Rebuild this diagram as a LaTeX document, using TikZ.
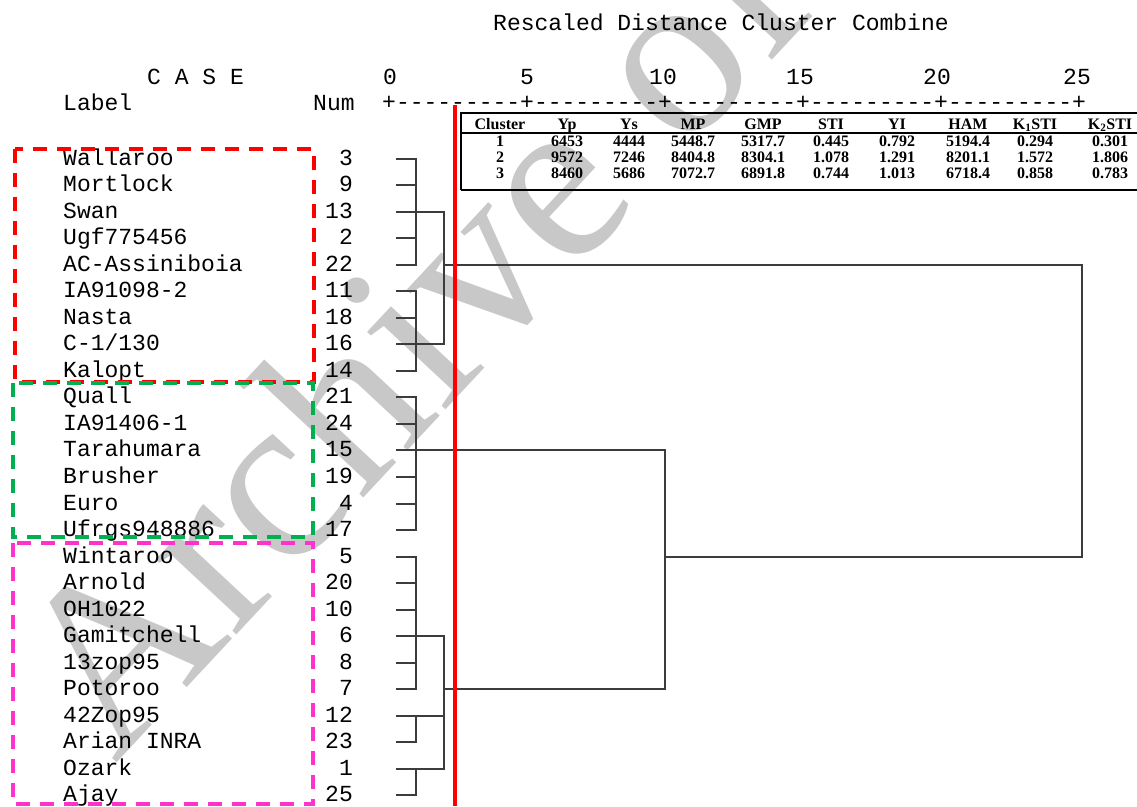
\documentclass[tikz,border=0pt]{standalone}
\usepackage{fontspec}
\setmainfont{Liberation Serif}
\setmonofont{Liberation Mono}
\usetikzlibrary{positioning,calc}
\definecolor{cRed}{RGB}{255,0,0}
\definecolor{cGreen}{RGB}{0,176,80}
\definecolor{cMagenta}{RGB}{255,51,204}
\definecolor{dLine}{RGB}{60,60,60}
\definecolor{wGray}{RGB}{200,200,200}

\begin{document}
\begin{tikzpicture}[x=1pt,y=-1pt,
  lbl/.style={font=\fontsize{23}{26}\selectfont\ttfamily,inner sep=0pt,text height=13pt,text depth=0pt},
  th/.style={font=\fontsize{16}{18}\selectfont\bfseries,inner sep=0pt,text height=10.8pt,text depth=0pt},
  tabrule/.style={line width=2.5pt,black},
  dend/.style={line width=2pt,dLine,line cap=rect},
  grp/.style={line width=3.5pt,dash pattern=on 14pt off 10pt},
  cutline/.style={line width=3.5pt,cRed},
  wmark/.style={font=\fontsize{240}{240}\selectfont,text=wGray,inner sep=0pt}]
\useasboundingbox (0,0) rectangle (1137,806);
\clip (0,0) rectangle (1137,806);
% ---- watermark
\node[wmark,rotate=47,anchor=base west] (wm) at (115,765) {Archive of SID};
% ---- titles
\node[lbl,anchor=west] (title) at (493,24) {Rescaled Distance Cluster Combine};
\node[lbl,anchor=west] (caseH) at (147,78) {C A S E};
\node[lbl,anchor=west] (labelH) at (63,104) {Label};
\node[lbl,anchor=west] (numH) at (313,104) {Num};
\foreach \v/\px in {0/390,5/527,10/663,15/800,20/937,25/1077}
  \node[lbl] (ax\v) at (\px,78) {\v};
\node[lbl,anchor=west] (axis) at (382,103) {+---------+---------+---------+---------+---------+};
% ---- cases
\foreach \nm/\nb [count=\i] in {Wallaroo/3,Mortlock/9,Swan/13,Ugf775456/2,AC-Assiniboia/22,
    IA91098-2/11,Nasta/18,{C-1/130}/16,Kalopt/14,Quall/21,IA91406-1/24,Tarahumara/15,
    Brusher/19,Euro/4,Ufrgs948886/17,Wintaroo/5,Arnold/20,OH1022/10,Gamitchell/6,
    13zop95/8,Potoroo/7,42Zop95/12,Arian INRA/23,Ozark/1,Ajay/25}{
  \pgfmathsetmacro\ry{158.5+(\i-1)*26.54}
  \node[lbl,anchor=west] (lab\i) at (63,\ry) {\nm};
  \node[lbl,anchor=east] (num\i) at (353,\ry) {\nb};
  \coordinate (r\i) at (397,\ry);
}
% ---- dendrogram
\coordinate (lv1) at (416,0);
\coordinate (lv2) at (444,0);
\coordinate (lv3) at (665,0);
\coordinate (lv4) at (1082,0);
\foreach \i in {1,...,25}
  \draw[dend] (r\i) -- (r\i -| lv1);
\foreach \a/\b in {1/5,6/9,10/15,16/21,22/23,24/25}
  \draw[dend] (r\a -| lv1) -- (r\b -| lv1);
\draw[dend] (r3 -| lv1) -- (r3 -| lv2) -- (r8 -| lv2) -- (r8 -| lv1);
\draw[dend] (r19 -| lv1) -- (r19 -| lv2) -- (r24 -| lv2) -- (r24 -| lv1);
\draw[dend] (r22 -| lv1) -- (r22 -| lv2);
\draw[dend] (r12 -| lv1) -- (r12 -| lv3) -- (r21 -| lv3) -- (r21 -| lv2);
\draw[dend] (r5 -| lv2) -- (r5 -| lv4) -- (r16 -| lv4) -- (r16 -| lv3);
% ---- cluster boxes
\draw[grp,cRed] (15,149) rectangle (314,382);
\draw[grp,cGreen] (13,383) rectangle (313,537);
\draw[grp,cMagenta] (13,543) rectangle (313,804);
% ---- cut line
\coordinate (cutTop) at (455,105);
\coordinate (cutBot) at (455,806);
\draw[cutline] (cutTop) -- (cutBot);
% ---- table
\foreach \cx/\hd/\ra/\rb/\rc [count=\j] in {500/Cluster/1/2/3,567/Yp/6453/9572/8460,
    629/Ys/4444/7246/5686,693/MP/5448.7/8404.8/7072.7,763/GMP/5317.7/8304.1/6891.8,
    831/STI/0.445/1.078/0.744,897/YI/0.792/1.291/1.013,968/HAM/5194.4/8201.1/6718.4,
    1035/K\textsubscript{1}STI/0.294/1.572/0.858,1110/K\textsubscript{2}STI/0.301/1.806/0.783}{
  \node[th] (h\j) at (\cx,124) {\hd};
  \node[th] (t\j a) at (\cx,141) {\ra};
  \node[th] (t\j b) at (\cx,157) {\rb};
  \node[th] (t\j c) at (\cx,173) {\rc};
}
\coordinate (tNW) at (461,113);
\coordinate (tSW) at (461,190);
\draw[tabrule] (tSW) -- (tNW) -- (tNW -| lv4) -- ++(60,0);
\draw[tabrule,line width=2pt] (461,133) -- (1137,133);
\draw[tabrule] (tSW) -- (1137,190);
\end{tikzpicture}
\end{document}
